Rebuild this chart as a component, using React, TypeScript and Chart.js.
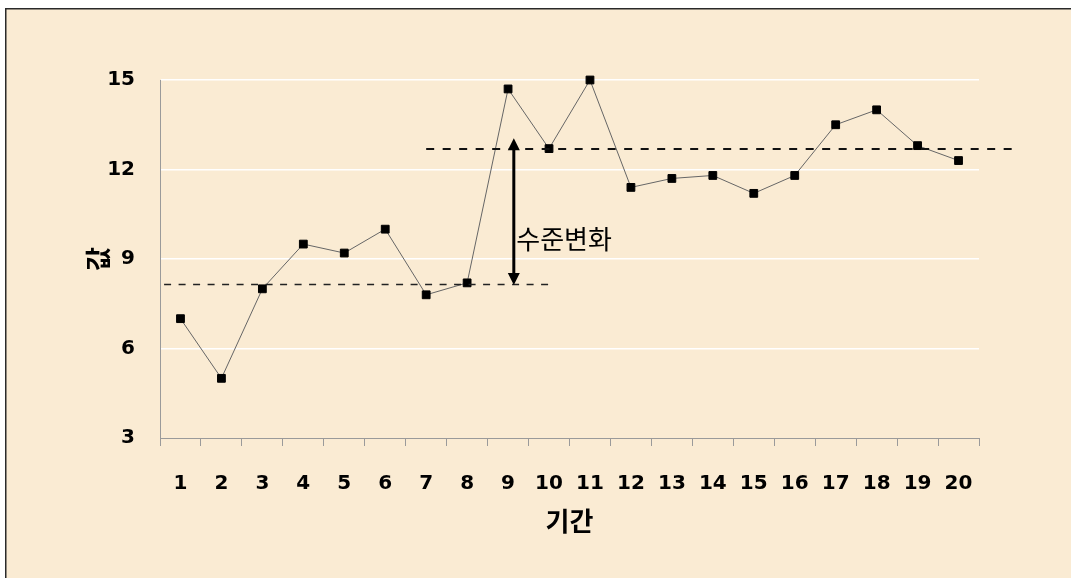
import React, { useEffect, useRef } from "react";
import { Chart, registerables } from "chart.js";

Chart.register(...registerables);

// ---- data ----
const periods = ["1", "2", "3", "4", "5", "6", "7", "8", "9", "10", "11", "12", "13", "14", "15", "16", "17", "18", "19", "20"];
const values = [7.0, 5.0, 8.0, 9.5, 9.2, 10.0, 7.8, 8.2, 14.7, 12.7, 15.0, 11.4, 11.7, 11.8, 11.2, 11.8, 13.5, 14.0, 12.8, 12.3];
const yTicks = [3, 6, 9, 12, 15];

const baselineLevel = 8.15;
const baselineSpan = [-0.4, 9.15];
const treatmentLevel = 12.7;
const treatmentSpan = [6.0, 20.5];
const arrowIndex = 8.14;
const arrowRange = [8.13, 13.05];
const annotationText = "수준변화";
const annotationPos = [8.2, 9.65];
const xTitle = "기간";
const yTitle = "값";

const BG = "#FAEBD3";
const AXIS = "#9a9a9a";
const TICK_FONT = { family: "'DejaVu Sans', sans-serif", size: 20, weight: "bold" as const };
const CJK = "'Noto Sans CJK KR', sans-serif";

const backgroundPlugin = {
  id: "bgFrame",
  beforeDraw(chart: any) {
    const { ctx, width, height } = chart;
    ctx.save();
    ctx.fillStyle = "#ffffff";
    ctx.fillRect(0, 0, width, height);
    ctx.fillStyle = BG;
    ctx.fillRect(5, 8, width, height);
    ctx.strokeStyle = "#2a2a2a";
    ctx.lineWidth = 1.5;
    ctx.beginPath();
    ctx.moveTo(5.75, height);
    ctx.lineTo(5.75, 8.75);
    ctx.lineTo(width, 8.75);
    ctx.stroke();
    ctx.restore();
  },
};

const overlayPlugin = {
  id: "levelOverlay",
  afterDatasetsDraw(chart: any) {
    const { ctx } = chart;
    const xs = chart.scales.x;
    const ys = chart.scales.y;
    ctx.save();

    // baseline dashed level
    ctx.strokeStyle = "#222";
    ctx.lineWidth = 1.5;
    ctx.setLineDash([7, 7.5]);
    ctx.beginPath();
    const by = Math.round(ys.getPixelForValue(baselineLevel)) + 0.5;
    ctx.moveTo(xs.getPixelForValue(baselineSpan[0]), by);
    ctx.lineTo(xs.getPixelForValue(baselineSpan[1]), by);
    ctx.stroke();

    // treatment dashed level
    ctx.strokeStyle = "#111";
    ctx.lineWidth = 2;
    ctx.setLineDash([8, 8.5]);
    ctx.beginPath();
    const ty = Math.round(ys.getPixelForValue(treatmentLevel));
    ctx.moveTo(xs.getPixelForValue(treatmentSpan[0]), ty);
    ctx.lineTo(xs.getPixelForValue(treatmentSpan[1]), ty);
    ctx.stroke();
    ctx.setLineDash([]);

    // double-headed arrow
    const ax = xs.getPixelForValue(arrowIndex);
    const yBot = ys.getPixelForValue(arrowRange[0]);
    const yTop = ys.getPixelForValue(arrowRange[1]);
    const head = 12;
    const half = 6;
    ctx.strokeStyle = "#000";
    ctx.fillStyle = "#000";
    ctx.lineWidth = 3;
    ctx.beginPath();
    ctx.moveTo(ax, yTop + head - 1);
    ctx.lineTo(ax, yBot - head + 1);
    ctx.stroke();
    ctx.beginPath();
    ctx.moveTo(ax, yTop);
    ctx.lineTo(ax - half, yTop + head);
    ctx.lineTo(ax + half, yTop + head);
    ctx.closePath();
    ctx.fill();
    ctx.beginPath();
    ctx.moveTo(ax, yBot);
    ctx.lineTo(ax - half, yBot - head);
    ctx.lineTo(ax + half, yBot - head);
    ctx.closePath();
    ctx.fill();

    // annotation text
    ctx.font = `26px ${CJK}`;
    ctx.textAlign = "left";
    ctx.textBaseline = "middle";
    ctx.fillText(annotationText, xs.getPixelForValue(annotationPos[0]), ys.getPixelForValue(annotationPos[1]));

    ctx.restore();
  },
};

export default function App() {
  const ref = useRef<HTMLCanvasElement | null>(null);

  useEffect(() => {
    if (!ref.current) return;
    const chart = new Chart(ref.current, {
      type: "line",
      data: {
        labels: periods,
        datasets: [
          {
            data: values,
            borderColor: "#666",
            borderWidth: 1,
            pointStyle: "rect",
            pointRadius: 5.5,
            pointBackgroundColor: "#000",
            pointBorderColor: "#000",
            pointBorderWidth: 1,
            tension: 0,
            fill: false,
            clip: false,
          },
        ],
      },
      options: {
        responsive: false,
        animation: false,
        layout: { padding: { left: 79, top: 80, right: 92, bottom: 37 } },
        plugins: {
          legend: { display: false },
          tooltip: { enabled: false },
          title: { display: false },
        },
        scales: {
          x: {
            type: "category",
            offset: true,
            afterFit(scale: any) {
              scale.height = 103;
            },
            grid: {
              offset: true,
              drawOnChartArea: false,
              drawTicks: true,
              tickLength: 8,
              color: AXIS,
              lineWidth: 1,
            },
            border: { display: true, color: AXIS, width: 1 },
            ticks: {
              color: "#000",
              font: TICK_FONT,
              padding: 26,
              maxRotation: 0,
              autoSkip: false,
            },
            title: {
              display: true,
              text: xTitle,
              color: "#000",
              font: { family: CJK, size: 26, weight: "bold" },
              padding: { top: 0, bottom: 4 },
            },
          },
          y: {
            min: yTicks[0],
            max: yTicks[yTicks.length - 1],
            afterFit(scale: any) {
              scale.width = 81;
            },
            afterBuildTicks(scale: any) {
              scale.ticks = yTicks.map((v) => ({ value: v }));
            },
            grid: {
              drawTicks: false,
              color: (c: any) => (c.tick && c.tick.value === yTicks[0] ? "rgba(0,0,0,0)" : "#ffffff"),
              lineWidth: 1.5,
            },
            border: { display: true, color: AXIS, width: 1 },
            ticks: {
              color: "#000",
              font: TICK_FONT,
              padding: 25,
            },
            title: {
              display: true,
              text: yTitle,
              color: "#000",
              font: { family: CJK, size: 26, weight: "bold" },
              padding: { top: 4, bottom: 0 },
            },
          },
        },
      },
      plugins: [backgroundPlugin, overlayPlugin],
    });
    return () => chart.destroy();
  }, []);

  return (
    <canvas
      ref={ref}
      width={1071}
      height={578}
      style={{ position: "fixed", left: 0, top: 0, width: 1071, height: 578, display: "block" }}
    />
  );
}
